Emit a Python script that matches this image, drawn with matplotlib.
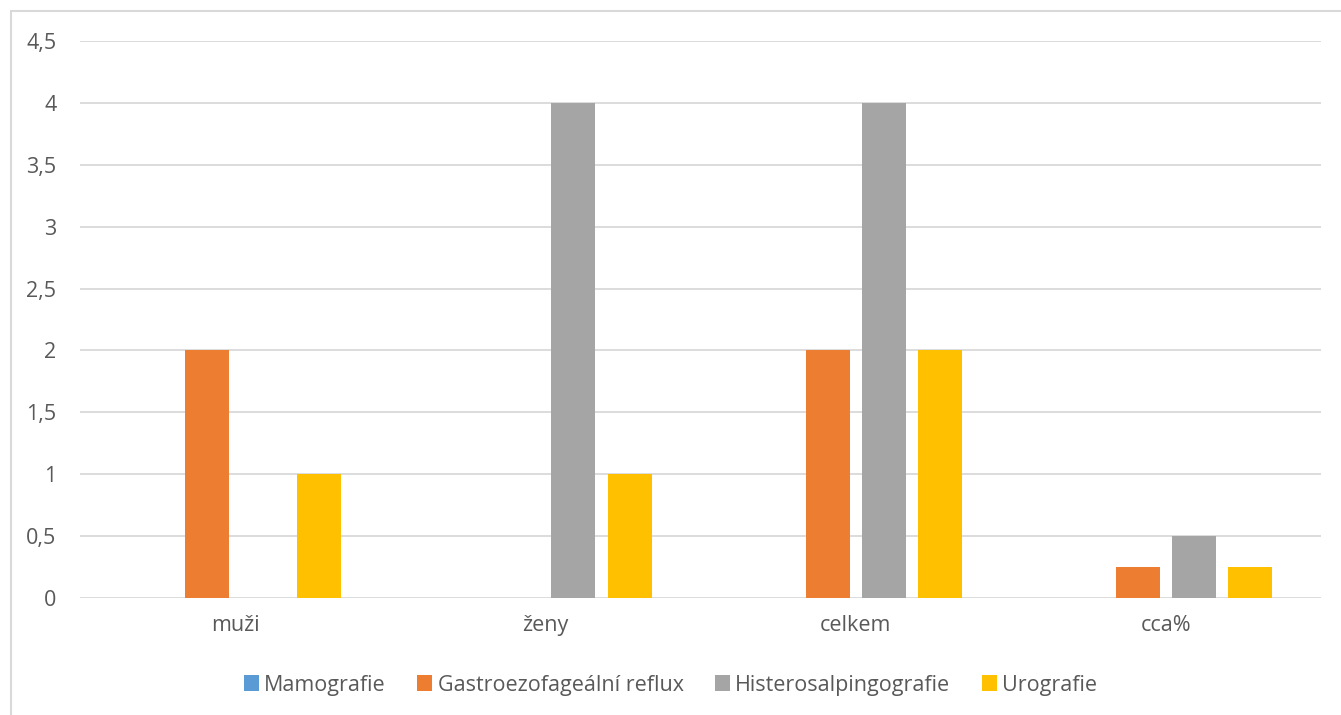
import matplotlib.pyplot as plt
import numpy as np
from matplotlib.patches import Rectangle
from matplotlib.ticker import FuncFormatter

plt.rcParams['font.family'] = ['Open Sans', 'DejaVu Sans']

categories = ['muži', 'ženy', 'celkem', 'cca%']
series_names = ['Mamografie', 'Gastroezofageální reflux', 'Histerosalpingografie', 'Urografie']
mamografie = [0, 0, 0, 0]
gastro = [2, 0, 2, 0.25]
hsg = [0, 4, 4, 0.5]
urografie = [1, 1, 2, 0.25]

colors = ['#5B9BD5', '#ED7D31', '#A5A5A5', '#FFC000']
text_col = '#595959'

W, H = 1341, 715
fig = plt.figure(figsize=(W / 100, H / 100), dpi=100)
ax = fig.add_axes([80 / W, (H - 598) / H, (1321 - 80) / W, (598 - 41) / H])

# ramecek grafu
fig.patches.append(Rectangle((11 / W, -0.1), 1.2, (H - 11) / H + 0.1, transform=fig.transFigure,
                             fill=False, edgecolor='#d9d9d9', linewidth=1.5))

x = np.arange(len(categories))
pitch = 0.181
width = 0.142
for i, (vals, name) in enumerate(zip([mamografie, gastro, hsg, urografie], series_names)):
    ax.bar(x + (i - 1.5) * pitch, vals, width=width, color=colors[i], label=name, zorder=3)

ax.set_xlim(-0.5, len(categories) - 0.5)
ax.set_ylim(0, 4.5)
ax.set_yticks(np.arange(0, 4.51, 0.5))
ax.yaxis.set_major_formatter(FuncFormatter(lambda v, p: f"{v:g}".replace('.', ',')))
ax.set_xticks(x)
ax.set_xticklabels(categories)
ax.grid(axis='y', color='#d9d9d9', linewidth=1.3, zorder=0)
for s in ax.spines.values():
    s.set_visible(False)
ax.tick_params(axis='both', length=0, labelsize=15.5, labelcolor=text_col)
ax.tick_params(axis='y', pad=17)
ax.tick_params(axis='x', pad=12)

handles, labels = ax.get_legend_handles_labels()
fig.legend(handles, labels, loc='center', bbox_to_anchor=(0.5, (H - 685) / H), ncol=4,
           frameon=False, fontsize=15.5, labelcolor=text_col, handlelength=0.7, handleheight=0.7,
           handletextpad=0.25, columnspacing=1.45)

fig.savefig('out.png', dpi=100)
